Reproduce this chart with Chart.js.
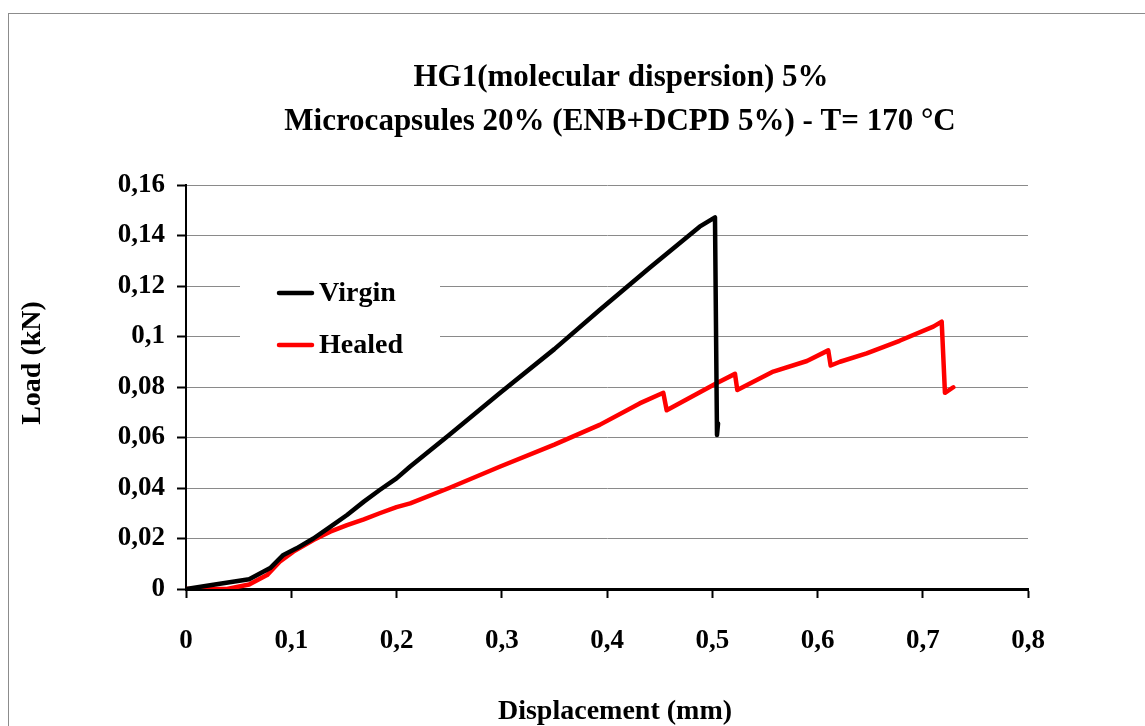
<!DOCTYPE html>
<html>
<head>
<meta charset="utf-8">
<script src="https://cdn.jsdelivr.net/npm/chart.js@4/dist/chart.umd.min.js"></script>
<style>
  body { margin: 0; background: #fff; }
  #frame { position: absolute; left: 8px; top: 13px; width: 1300px; height: 900px; border: 1px solid #8c8c8c; }
  #load { position: absolute; left: 0; top: 0; }
</style>
</head>
<body>
<div id="frame"></div>
<canvas id="load" width="1145" height="726"></canvas>
<script>
// values (x = displacement mm, y = load kN)
var virginX = [0, 0.026, 0.06, 0.08, 0.0925, 0.105, 0.121, 0.137, 0.153, 0.169, 0.184, 0.200, 0.213, 0.25, 0.298, 0.35, 0.393, 0.44, 0.488, 0.5026, 0.5045, 0.5055]
var virginY = [0, 0.0017, 0.0039, 0.0083, 0.0135, 0.0161, 0.0200, 0.0246, 0.0293, 0.0346, 0.0392, 0.0438, 0.0485, 0.061, 0.0775, 0.095, 0.1105, 0.127, 0.1435, 0.1472, 0.061, 0.0655]

var healedX = [0, 0.039, 0.06, 0.077, 0.089, 0.102, 0.121, 0.137, 0.153, 0.169, 0.184, 0.200, 0.213, 0.25, 0.298, 0.35, 0.393, 0.431, 0.4535, 0.4567, 0.504, 0.5216, 0.5238, 0.558, 0.590, 0.6102, 0.6125, 0.6214, 0.6467, 0.678, 0.71, 0.718, 0.7211, 0.729]
var healedY = [0, 0, 0.0018, 0.0055, 0.0108, 0.0148, 0.0194, 0.0227, 0.0253, 0.0276, 0.0300, 0.0324, 0.0339, 0.040, 0.0484, 0.0572, 0.0650, 0.0735, 0.0777, 0.0708, 0.0815, 0.0852, 0.0788, 0.0861, 0.0903, 0.0945, 0.0885, 0.0900, 0.0933, 0.0983, 0.1039, 0.1059, 0.0777, 0.0799]

var seriesNames = ['Virgin', 'Healed']
var xTickLabels = ['0', '0,1', '0,2', '0,3', '0,4', '0,5', '0,6', '0,7', '0,8']
var yTickLabels = ['0', '0,02', '0,04', '0,06', '0,08', '0,1', '0,12', '0,14', '0,16']
var titleLines = ['HG1(molecular dispersion) 5%', 'Microcapsules 20% (ENB+DCPD 5%) - T= 170 °C']
var xTitle = 'Displacement (mm)'
var yTitle = 'Load (kN)'

function pairs(xs, ys) {
    var out = []
    for (var i = 0; i < xs.length; i++) {
        out.push({x: xs[i], y: ys[i]})
    }
    return out
}

var serif = '"Liberation Serif", "Times New Roman", serif'

// title, axis titles and the boxed legend, drawn by hand like the excel sheet
var extras = {
    id: 'extras',
    beforeDatasetsDraw: function(chart) {
        var ctx = chart.ctx
        ctx.save()
        ctx.fillStyle = '#fff'
        ctx.fillRect(240, 255, 200, 117)
        var rows = [293, 345]
        ctx.font = 'bold 28px ' + serif
        ctx.textBaseline = 'middle'
        ctx.textAlign = 'left'
        chart.data.datasets.forEach(function(ds, i) {
            ctx.strokeStyle = ds.borderColor
            ctx.lineWidth = 4.5
            ctx.lineCap = 'round'
            ctx.beginPath()
            ctx.moveTo(279, rows[i])
            ctx.lineTo(312, rows[i])
            ctx.stroke()
            ctx.fillStyle = '#000'
            ctx.fillText(ds.label, 319, rows[i] + 1)
        })
        ctx.restore()
    },
    afterDraw: function(chart) {
        var ctx = chart.ctx
        ctx.save()
        ctx.fillStyle = '#000'
        ctx.textAlign = 'center'
        ctx.textBaseline = 'middle'
        ctx.font = 'bold 31px ' + serif
        ctx.fillText(titleLines[0], 621, 78)
        ctx.fillText(titleLines[1], 620, 122)
        ctx.font = 'bold 28px ' + serif
        ctx.fillText(xTitle, 615, 712)
        ctx.translate(33, 363)
        ctx.rotate(-Math.PI / 2)
        ctx.fillText(yTitle, 0, 0)
        ctx.restore()
    }
}

const ctx = document.getElementById('load').getContext('2d');
const myChart = new Chart(ctx, {
    type: 'line',
    data: {
        datasets: [{
            label: seriesNames[0],
            data: pairs(virginX, virginY),
            borderColor: '#000000',
            borderWidth: 4.5,
            pointRadius: 0,
            tension: 0,
            borderJoinStyle: 'round',
            borderCapStyle: 'round'
        }, {
            label: seriesNames[1],
            data: pairs(healedX, healedY),
            borderColor: '#ff0000',
            borderWidth: 4.5,
            pointRadius: 0,
            tension: 0,
            borderJoinStyle: 'round',
            borderCapStyle: 'round'
        }]
    },
    options: {
        responsive: false,
        animation: false,
        devicePixelRatio: 1,
        layout: {
            padding: {left: 0, top: 185, right: 117, bottom: 0}
        },
        plugins: {
            legend: {display: false},
            title: {display: false},
            tooltip: {enabled: false}
        },
        scales: {
            x: {
                type: 'linear',
                min: 0,
                max: 0.8,
                afterFit: function(s) { s.height = 137 },
                ticks: {
                    stepSize: 0.1,
                    padding: 27,
                    color: '#000',
                    font: {family: serif, size: 27, weight: 'bold'},
                    maxRotation: 0,
                    callback: function(v, i) { return xTickLabels[i] }
                },
                grid: {
                    drawOnChartArea: false,
                    drawTicks: true,
                    tickLength: 9,
                    tickColor: '#000',
                    tickWidth: 2,
                    color: '#000'
                },
                border: {color: '#000', width: 3}
            },
            y: {
                min: 0,
                max: 0.16,
                afterFit: function(s) { s.width = 186 },
                ticks: {
                    stepSize: 0.02,
                    padding: 12,
                    color: '#000',
                    font: {family: serif, size: 27, weight: 'bold'},
                    callback: function(v, i) { return yTickLabels[i] }
                },
                grid: {
                    color: '#8a8a8a',
                    lineWidth: 1,
                    drawTicks: true,
                    tickLength: 9,
                    tickColor: '#000',
                    tickWidth: 2
                },
                border: {color: '#000', width: 2}
            }
        }
    },
    plugins: [extras]
});
</script>
</body>
</html>
